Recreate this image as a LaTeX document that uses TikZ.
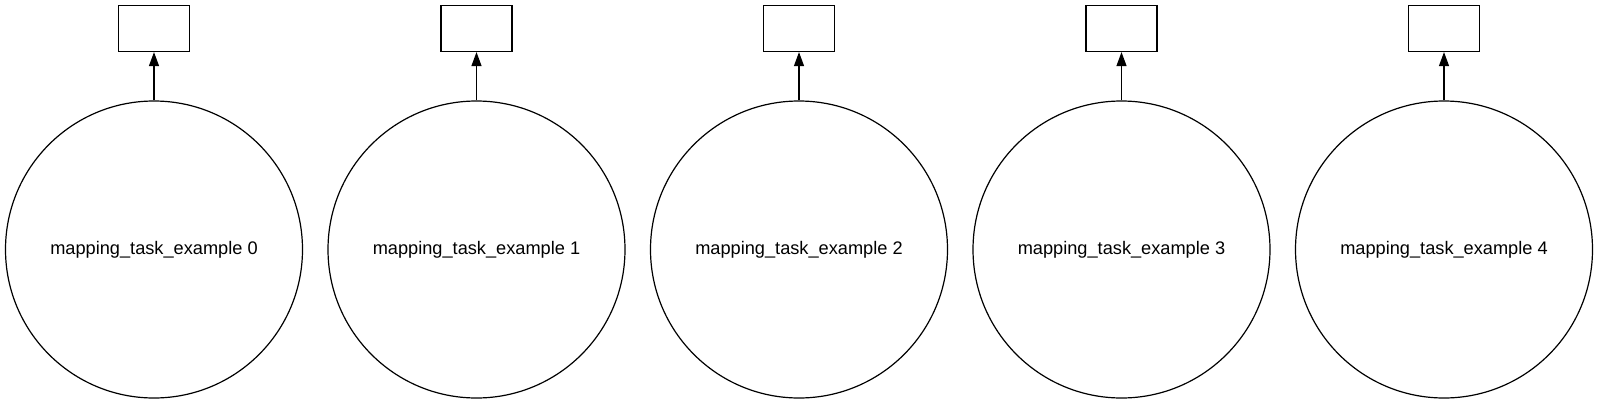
\documentclass[tikz,border=0pt]{standalone}
\usepackage{fontspec}
\setmainfont{Liberation Sans}
\usetikzlibrary{arrows.meta}
\begin{document}
\begin{tikzpicture}[x=1pt,y=-1pt,line width=1.2pt,
  every node/.style={font=\fontsize{18.2}{22}\selectfont},
  task/.style={draw,circle,minimum size=297pt,inner sep=0pt},
  result/.style={draw,rectangle,minimum width=71pt,minimum height=46pt,inner sep=0pt},
  dep/.style={-{Triangle[length=14pt,width=10pt]}}]
  \useasboundingbox (0,0) rectangle (1599,405);
  \foreach \i in {0,...,4} {
    \node [task] (task\i) at (154+322.5*\i,249.5) {mapping\_task\_example \i};
    \node [result] (res\i) at (154+322.5*\i,28.5) {};
    \draw [dep] (task\i) -- (res\i);
  }
\end{tikzpicture}
\end{document}
